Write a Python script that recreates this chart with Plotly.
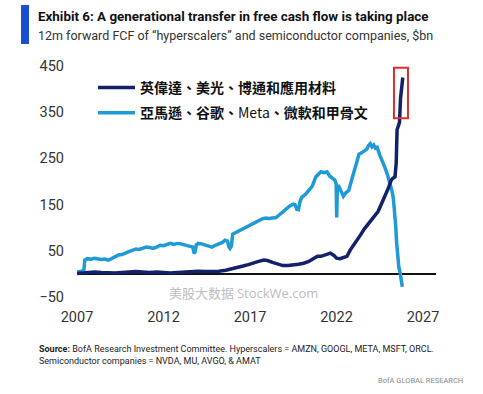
import plotly.graph_objects as go

# ---------------- data ----------------
HYPER_LABEL = "亞馬遜、谷歌、<span style='font-weight:normal'>Meta</span>、微軟和甲骨文"
SEMI_LABEL = "英偉達、美光、博通和應用材料"

hyper_years = [2007.0, 2007.15, 2007.3, 2007.4, 2007.45, 2007.6, 2007.8, 2008.0, 2008.2, 2008.4,
               2008.6, 2008.8, 2009.0, 2009.2, 2009.4, 2009.6, 2009.8, 2010.0, 2010.2, 2010.4,
               2010.6, 2010.8, 2011.0, 2011.2, 2011.4, 2011.6, 2011.8, 2012.0, 2012.2, 2012.4,
               2012.6, 2012.8, 2013.0, 2013.2, 2013.4, 2013.6, 2013.7, 2013.76, 2013.82, 2013.9,
               2014.0, 2014.2, 2014.4, 2014.6, 2014.8, 2015.0, 2015.2, 2015.4, 2015.55, 2015.7,
               2015.78, 2015.84, 2015.92, 2016.0, 2016.1, 2016.3, 2016.5, 2016.7, 2016.9, 2017.1,
               2017.3, 2017.5, 2017.7, 2017.9, 2018.1, 2018.3, 2018.5, 2018.7, 2018.9, 2019.1,
               2019.3, 2019.5, 2019.6, 2019.7, 2019.8, 2019.9, 2020.0, 2020.2, 2020.4, 2020.6,
               2020.8, 2020.95, 2021.1, 2021.3, 2021.45, 2021.6, 2021.75, 2021.9, 2021.98, 2022.01,
               2022.05, 2022.1, 2022.25, 2022.4, 2022.55, 2022.7, 2022.85, 2023.0, 2023.15, 2023.3,
               2023.45, 2023.6, 2023.75, 2023.85, 2023.95, 2024.05, 2024.15, 2024.25, 2024.35, 2024.5,
               2024.65, 2024.8, 2024.95, 2025.1, 2025.2, 2025.28, 2025.35, 2025.42, 2025.47, 2025.52,
               2025.6, 2025.68, 2025.74, 2025.8]
hyper_fcf = [4, 5, 6, 9, 30, 33, 32, 34, 33, 31,
             32, 30, 33, 37, 41, 42, 46, 48, 51, 54,
             53, 56, 58, 57, 55, 58, 62, 61, 64, 66,
             64, 66, 65, 63, 62, 60, 58, 45, 47, 63,
             66, 65, 62, 60, 58, 62, 65, 68, 73, 71,
             58, 55, 60, 86, 88, 92, 96, 100, 103, 107,
             110, 115, 119, 121, 120, 121, 122, 128, 135, 142,
             147, 151, 150, 140, 139, 158, 166, 172, 180, 190,
             210, 217, 221, 219, 221, 212, 208, 203, 195, 122,
             188, 192, 180, 168, 176, 180, 200, 220, 245, 259,
             262, 265, 270, 278, 282, 275, 279, 272, 274, 257,
             245, 230, 214, 196, 180, 165, 140, 105, 70, 45,
             15, 2, -10, -28]

semi_years = [2007.0, 2007.3, 2007.6, 2008.0, 2008.4, 2008.8, 2009.2, 2009.6, 2010.0, 2010.4,
              2010.8, 2011.2, 2011.6, 2012.0, 2012.4, 2012.8, 2013.2, 2013.6, 2014.0, 2014.4,
              2014.8, 2015.2, 2015.6, 2016.0, 2016.3, 2016.6, 2016.9, 2017.2, 2017.5, 2017.8,
              2018.0, 2018.3, 2018.6, 2018.9, 2019.2, 2019.5, 2019.8, 2020.1, 2020.4, 2020.7,
              2020.9, 2021.1, 2021.4, 2021.65, 2021.85, 2022.0, 2022.2, 2022.4, 2022.6, 2022.8,
              2023.0, 2023.2, 2023.4, 2023.6, 2023.8, 2024.0, 2024.2, 2024.4, 2024.6, 2024.8,
              2025.0, 2025.15, 2025.25, 2025.38, 2025.45, 2025.5, 2025.58, 2025.64, 2025.7, 2025.75,
              2025.83]
semi_fcf = [1, 2, 3, 4, 3, 2, 2, 3, 4, 5,
            4, 3, 4, 3, 2, 3, 4, 5, 6, 5,
            5, 6, 8, 11, 15, 17, 20, 24, 27, 30,
            29, 25, 21, 18, 18, 19, 21, 23, 27, 34,
            38, 38, 41, 45, 40, 34, 33, 35, 38, 52,
            62, 72, 85, 97, 107, 114, 126, 135, 152, 168,
            186, 202, 207, 210, 240, 312, 322, 328, 380, 405,
            425]

x_ticks = [2007, 2012, 2017, 2022, 2027]
y_ticks = [-50, 50, 150, 250, 350, 450]
highlight_x = [2025.32, 2026.13]
highlight_y = [337, 446]

# ---------------- layout helpers ----------------
W, H = 483, 394
ML, MR, MT, MB = 77, 47, 66, 97
PW, PH = W - ML - MR, H - MT - MB


def px_x(px):
    return (px - ML) / PW


def px_y(py):
    return (H - MB - py) / PH


SANS = "Roboto, Arial, sans-serif"
CJK = "Noto Sans CJK TC, Noto Sans CJK SC, sans-serif"
NAVY = "#13216b"
LIGHT = "#1e9ad6"

fig = go.Figure()
fig.add_trace(go.Scatter(x=hyper_years, y=hyper_fcf, mode="lines", name=HYPER_LABEL,
                         line=dict(color=LIGHT, width=3.5), legendrank=2, legendgroup="h"))
fig.add_trace(go.Scatter(x=semi_years, y=semi_fcf, mode="lines", name=SEMI_LABEL,
                         line=dict(color=NAVY, width=3.5), legendrank=1, legendgroup="s"))

fig.add_shape(type="rect", xref="x", yref="y", x0=highlight_x[0], x1=highlight_x[1],
              y0=highlight_y[0], y1=highlight_y[1], line=dict(color="#d9302c", width=2))

# title bar
fig.add_shape(type="rect", xref="paper", yref="paper", x0=px_x(21), x1=px_x(29),
              y0=px_y(44), y1=px_y(5), fillcolor="#1b4fd1", line=dict(width=0))

annotations = [
    dict(text="<b>Exhibit 6: A generational transfer in free cash flow is taking place</b>",
         x=px_x(36), y=px_y(17), font=dict(family=SANS, size=13.4, color="#111")),
    dict(text="12m forward FCF of “hyperscalers” and semiconductor companies, $bn",
         x=px_x(36), y=px_y(36), font=dict(family=SANS, size=12.5, color="#333")),
    dict(text="美股大数据 <span style='font-family:Open Sans'>StockWe.com</span>",
         x=px_x(167), y=px_y(292), font=dict(family=CJK, size=13, color="#bdbdbd")),
    dict(text="<b>Source:</b> BofA Research Investment Committee. Hyperscalers = AMZN, GOOGL, META, MSFT, ORCL.<br>"
              "Semiconductor companies = NVDA, MU, AVGO, & AMAT",
         x=px_x(37), y=px_y(355), align="left", font=dict(family=SANS, size=9, color="#222")),
]
for a in annotations:
    a.update(xref="paper", yref="paper", xanchor="left", yanchor="middle", showarrow=False)
    fig.add_annotation(**a)
fig.add_annotation(text="BofA GLOBAL RESEARCH", xref="paper", yref="paper", x=px_x(465), y=px_y(380),
                   xanchor="right", yanchor="middle", showarrow=False,
                   font=dict(family=SANS, size=7.5, color="#8a8a8a"))

fig.update_layout(
    width=W, height=H,
    margin=dict(l=ML, r=MR, t=MT, b=MB),
    paper_bgcolor="white", plot_bgcolor="white",
    showlegend=True,
    legend=dict(x=px_x(93), y=px_y(72), xanchor="left", yanchor="top",
                font=dict(family=CJK, size=14, color="#111", weight="bold"),
                bgcolor="rgba(0,0,0,0)", tracegroupgap=4, itemwidth=37),
    xaxis=dict(range=[2007, 2027.75], tickvals=x_ticks, showgrid=False, zeroline=False,
               showline=False, ticks="", ticklabelstandoff=9,
               tickfont=dict(family=SANS, size=14.5, color="#333")),
    yaxis=dict(range=[-50, 450], tickvals=y_ticks, showgrid=False, zeroline=True,
               zerolinecolor="#111", zerolinewidth=1.6, showline=False, ticks="",
               ticklabelstandoff=12, tickfont=dict(family=SANS, size=14.5, color="#333")),
)

fig.write_html("out.html")
